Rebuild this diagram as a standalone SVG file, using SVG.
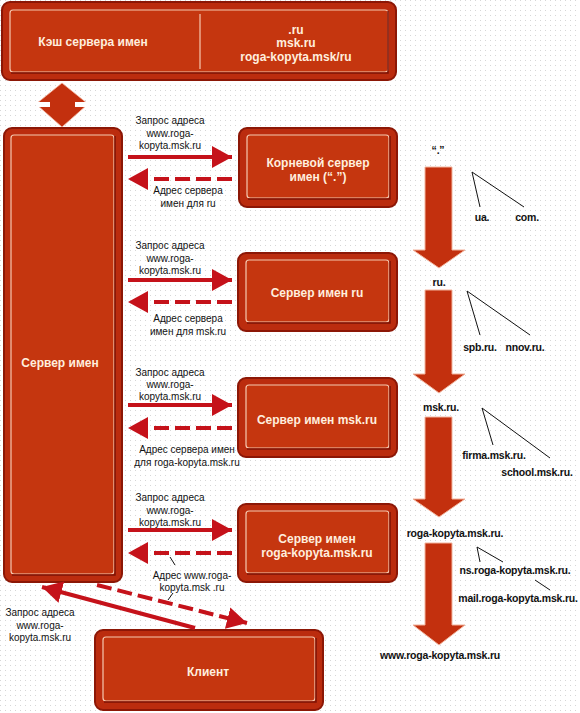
<svg xmlns="http://www.w3.org/2000/svg" width="580" height="713" viewBox="0 0 580 713">
<defs>
<pattern id="dots" width="5" height="5" patternUnits="userSpaceOnUse"><rect x="0" y="0" width="1" height="1" fill="#d6d6d6"/></pattern>
<marker id="ah" viewBox="0 0 20 22" refX="20" refY="11" markerWidth="20" markerHeight="22" markerUnits="userSpaceOnUse" orient="auto"><path d="M0,0 L20,11 L0,22 z" fill="#c5121a"/></marker>
<style>
.outer{fill:#bb2c0e;stroke:#8c1706;stroke-width:2}
.inner{fill:#c5360f;stroke:#f6c9b0;stroke-width:1.2}
.shade{fill:none;stroke:#7d1205;stroke-width:1.5}
.bt{font-family:"Liberation Sans",Arial,sans-serif;font-weight:bold;font-size:12px;fill:#ffeede;text-anchor:middle}
.lb{font-family:"Liberation Sans",Arial,sans-serif;font-size:10px;fill:#111;text-anchor:middle}
.tl{font-family:"Liberation Sans",Arial,sans-serif;font-weight:bold;font-size:10.5px;fill:#111;text-anchor:middle;letter-spacing:-0.2px}
.req{stroke:#c5121a;stroke-width:4;fill:none;marker-end:url(#ah)}
.resp{stroke:#c5121a;stroke-width:4;fill:none;stroke-dasharray:15 6;marker-end:url(#ah)}
.big{fill:#c3300e;stroke:#f2b39c;stroke-width:1}
.thin{stroke:#111;stroke-width:1;fill:none}
</style>
</defs>
<rect width="580" height="713" fill="#ffffff"/>
<rect width="580" height="713" fill="url(#dots)"/>

<g id="cache">
<rect class="outer" x="2" y="2" width="394" height="78" rx="8"/>
<rect class="inner" x="10" y="10" width="378" height="62" rx="3"/>
<path class="shade" d="M11,73 H388 V11"/>
<line x1="200" y1="14" x2="200" y2="69" stroke="#f6c9b0" stroke-width="1.2"/>
<text class="bt" x="93" y="46">Кэш сервера имен</text>
<text class="bt" x="296" y="34">.ru</text>
<text class="bt" x="296" y="47">msk.ru</text>
<text class="bt" x="296" y="61">roga-kopyta.msk/ru</text>
</g>

<g id="cache-link">
<polygon points="62,83 88,104 62,127 36,104" fill="#c3300e" stroke="#f2b39c" stroke-width="0.8"/>
<rect x="36" y="102" width="14" height="5" fill="#ffffff"/>
<rect x="75" y="102" width="14" height="5" fill="#ffffff"/>
</g>

<g id="nameserver">
<rect class="outer" x="4" y="128" width="118" height="454" rx="8"/>
<rect class="inner" x="11" y="135" width="103" height="439" rx="3"/>
<path class="shade" d="M12,575 H115 V136"/>
<text class="bt" x="60" y="367">Сервер имен</text>
</g>

<g id="root">
<rect class="outer" x="239" y="128" width="158" height="79" rx="8"/>
<rect class="inner" x="247" y="135" width="142" height="63" rx="3"/>
<path class="shade" d="M248,199 H390 V136"/>
<text class="bt" x="318" y="167">Корневой сервер</text>
<text class="bt" x="318" y="181">имен (“.”)</text>
</g>

<g id="ns-ru">
<rect class="outer" x="238" y="253" width="159" height="78" rx="8"/>
<rect class="inner" x="246" y="260" width="143" height="62" rx="3"/>
<path class="shade" d="M247,323 H390 V261"/>
<text class="bt" x="317" y="297">Сервер имен ru</text>
</g>

<g id="ns-msk">
<rect class="outer" x="238" y="378" width="159" height="79" rx="8"/>
<rect class="inner" x="246" y="385" width="143" height="63" rx="3"/>
<path class="shade" d="M247,449 H390 V386"/>
<text class="bt" x="317" y="424">Сервер имен msk.ru</text>
</g>

<g id="ns-roga">
<rect class="outer" x="238" y="504" width="159" height="78" rx="8"/>
<rect class="inner" x="246" y="511" width="143" height="62" rx="3"/>
<path class="shade" d="M247,574 H390 V512"/>
<text class="bt" x="317" y="543">Сервер имен</text>
<text class="bt" x="317" y="557">roga-kopyta.msk.ru</text>
</g>

<g id="client">
<rect class="outer" x="95" y="630" width="228" height="80" rx="8"/>
<rect class="inner" x="103" y="637" width="212" height="64" rx="3"/>
<path class="shade" d="M104,702 H316 V638"/>
<text class="bt" x="208" y="676">Клиент</text>
</g>

<g id="connectors">
<line class="req" x1="128" y1="157" x2="232" y2="157"/>
<line class="resp" x1="232" y1="179" x2="128" y2="179"/>
<line class="req" x1="128" y1="280" x2="232" y2="280"/>
<line class="resp" x1="232" y1="302" x2="128" y2="302"/>
<line class="req" x1="128" y1="405" x2="232" y2="405"/>
<line class="resp" x1="232" y1="428" x2="128" y2="428"/>
<line class="req" x1="128" y1="530" x2="232" y2="530"/>
<line class="resp" x1="232" y1="553" x2="128" y2="553"/>
<line class="req" x1="195" y1="628" x2="42" y2="587"/>
<line class="resp" x1="97" y1="585" x2="247" y2="623"/>
<line class="thin" x1="170" y1="557" x2="175" y2="565"/>
<line class="thin" x1="168" y1="600" x2="173" y2="593"/>
</g>

<g id="labels">
<text class="lb" x="170" y="124">Запрос адреса</text>
<text class="lb" x="170" y="137">www.roga-</text>
<text class="lb" x="170" y="149">kopyta.msk.ru</text>
<text class="lb" x="188" y="194">Адрес сервера</text>
<text class="lb" x="188" y="207">имен для ru</text>

<text class="lb" x="170" y="249">Запрос адреса</text>
<text class="lb" x="170" y="262">www.roga-</text>
<text class="lb" x="170" y="274">kopyta.msk.ru</text>
<text class="lb" x="188" y="322">Адрес сервера</text>
<text class="lb" x="188" y="335">имен для msk.ru</text>

<text class="lb" x="170" y="376">Запрос адреса</text>
<text class="lb" x="170" y="388">www.roga-</text>
<text class="lb" x="170" y="400">kopyta.msk.ru</text>
<text class="lb" x="187" y="453">Адрес сервера имен</text>
<text class="lb" x="187" y="466">для roga-kopyta.msk.ru</text>

<text class="lb" x="170" y="501">Запрос адреса</text>
<text class="lb" x="170" y="514">www.roga-</text>
<text class="lb" x="170" y="526">kopyta.msk.ru</text>
<text class="lb" x="192" y="579">Адрес www.roga-</text>
<text class="lb" x="192" y="591">kopyta.msk .ru</text>

<text class="lb" x="40" y="616">Запрос адреса</text>
<text class="lb" x="40" y="629">www.roga-</text>
<text class="lb" x="40" y="641">kopyta.msk.ru</text>
</g>

<g id="tree">
<polygon class="big" points="425,167 452,167 452,250 465,250 439,268 413,250 425,250"/>
<polygon class="big" points="425,290 452,290 452,374 465,374 439,393 413,374 425,374"/>
<polygon class="big" points="425,417 452,417 452,499 465,499 439,517 413,499 425,499"/>
<polygon class="big" points="425,543 452,543 452,625 465,625 439,645 413,625 425,625"/>
<text class="tl" x="438" y="154" font-size="9">“.”</text>
<line class="thin" x1="472" y1="172" x2="480" y2="207"/>
<line class="thin" x1="472" y1="172" x2="524" y2="207"/>
<text class="tl" x="482" y="221">ua.</text>
<text class="tl" x="527" y="221">com.</text>
<text class="tl" x="439" y="286">ru.</text>
<line class="thin" x1="467" y1="291" x2="480" y2="335"/>
<line class="thin" x1="467" y1="291" x2="530" y2="335"/>
<text class="tl" x="480" y="351">spb.ru.</text>
<text class="tl" x="525" y="351">nnov.ru.</text>
<text class="tl" x="441" y="411">msk.ru.</text>
<line class="thin" x1="482" y1="408" x2="493" y2="445"/>
<line class="thin" x1="482" y1="408" x2="550" y2="458"/>
<text class="tl" x="494" y="459">firma.msk.ru.</text>
<text class="tl" x="537" y="476">school.msk.ru.</text>
<text class="tl" x="455" y="537">roga-kopyta.msk.ru.</text>
<line class="thin" x1="477" y1="547" x2="480" y2="562"/>
<line class="thin" x1="477" y1="547" x2="503" y2="562"/>
<text class="tl" x="515" y="574">ns.roga-kopyta.msk.ru.</text>
<line class="thin" x1="535" y1="580" x2="550" y2="590"/>
<text class="tl" x="518" y="602">mail.roga-kopyta.msk.ru.</text>
<text class="tl" x="440" y="659">www.roga-kopyta.msk.ru</text>
</g>
</svg>
